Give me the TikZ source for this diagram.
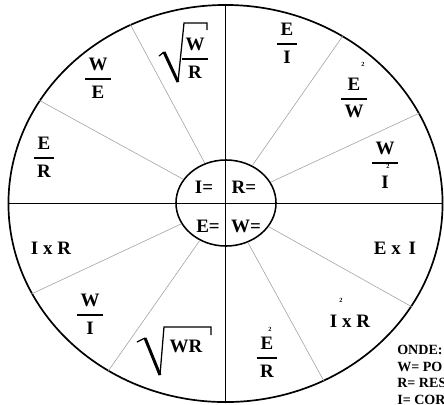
\documentclass[tikz,border=0pt]{standalone}
\usepackage{amsmath}
\usepackage{fontspec}
\setmainfont{Liberation Serif}
\usetikzlibrary{shapes.geometric}

\newcommand{\gfr}[2]{\genfrac{}{}{1.1pt}{0}{\,\text{#1}\,}{\,\text{#2}\,}}

\begin{document}
\begin{tikzpicture}[x=0.025cm,y=-0.025cm,
    lbl/.style={font=\fontsize{13.5}{16}\selectfont\bfseries,inner sep=0pt},
    sqr/.style={font=\fontsize{4.5}{5}\selectfont\bfseries,inner sep=0pt},
    spoke/.style={gray!75,line width=0.4pt},
    radthin/.style={line width=0.9pt,line join=miter},
    radthick/.style={line width=2.1pt,line cap=butt},
    legend/.style={font=\fontsize{10}{12}\selectfont\bfseries,anchor=west,inner sep=0pt}]
  \useasboundingbox (0,0) rectangle (444,404);
  \node[draw,ellipse,line width=1.2pt,minimum width=10.85cm,minimum height=9.925cm,inner sep=0pt] (outer) at (225.5,203.5) {};
  \node[draw,ellipse,line width=1.1pt,minimum width=2.5cm,minimum height=2.15cm,inner sep=0pt] (inner) at (226,203) {};
  \draw[line width=1pt] (outer.north) -- (outer.south);
  \draw[line width=1pt] (outer.west) -- (outer.east);
  \foreach \a in {151,118,55,25,205,235,299,331}
    \draw[spoke] (inner.\a) -- (outer.\a);

  % inner circle
  \node[lbl] (ieq) at (204,187) {I=};
  \node[lbl] (req) at (244,187) {R=};
  \node[lbl] (eeq) at (208,226) {E=};
  \node[lbl] (weq) at (246,226) {W=};

  % I
  \node[lbl] (iwr) at (195,58) {$\displaystyle\gfr{W}{R}$};
  \draw[radthin] (159,56) -- (164,52);
  \draw[radthick] (164,52) -- (178,82);
  \draw[radthin] (178,82) -- (184,23) -- (207,23) -- (207,30);
  \node[lbl] (iwe) at (98,78) {$\displaystyle\gfr{W}{E}$};
  \node[lbl] (ier) at (44,157) {$\displaystyle\gfr{E}{R}$};

  % R
  \node[lbl] (rei) at (287,43) {$\displaystyle\gfr{E}{I}$};
  \node[lbl] (rew) at (354,98) {$\displaystyle\gfr{E}{W}$};
  \node[sqr] (rew2) at (363,64) {2};
  \node[lbl] (rwi) at (385,165) {$\displaystyle\gfr{W}{\rule{0pt}{1.05em}I}$};
  \node[sqr] (rwi2) at (388,166) {2};

  % E
  \node[lbl] (eir) at (51,248) {I x R};
  \node[lbl] (ewi) at (90,314) {$\displaystyle\gfr{W}{I}$};
  \node[lbl] (ewr) at (186,346) {WR};
  \draw[radthin] (137,342) -- (145,338);
  \draw[radthick] (145,338) -- (160,375);
  \draw[radthin] (160,375) -- (164,327) -- (211,327) -- (211,335);

  % W
  \node[lbl] (wer) at (267,357) {$\displaystyle\gfr{E}{R}$};
  \node[sqr] (wer2) at (270,329) {2};
  \node[lbl] (wei) at (395,248) {E x\, I};
  \node[lbl] (wir) at (350,321) {I x R};
  \node[sqr] (wir2) at (341,300) {2};

  % legenda
  \node[legend] (onde) at (397,350) {ONDE:};
  \node[legend] (lw) at (397,367) {W= PO};
  \node[legend] (lr) at (397,383) {R= RES};
  \node[legend] (li) at (397,400) {I= COR};
\end{tikzpicture}
\end{document}
